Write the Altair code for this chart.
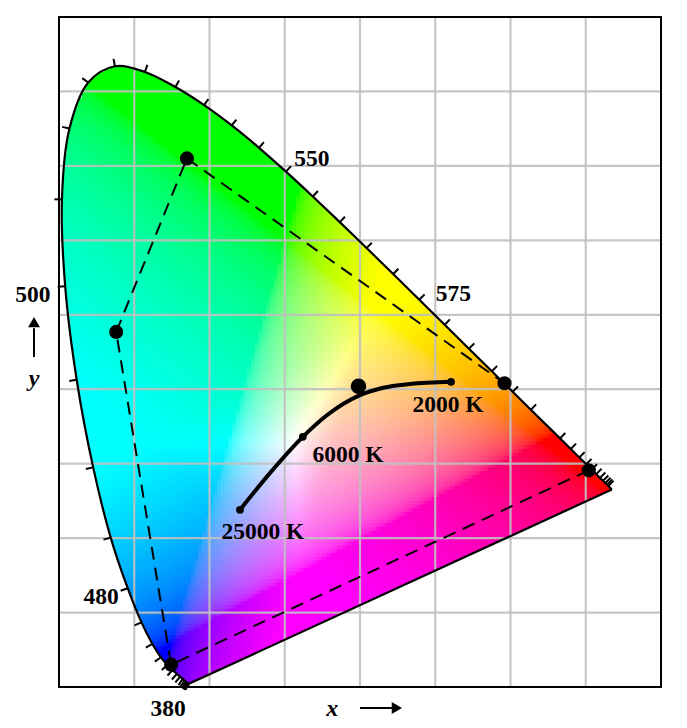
import altair as alt
import numpy as np
import pandas as pd

alt.data_transformers.disable_max_rows()

# Spectral locus, CIE 1931
nm = [380,385,390,395,400,405,410,415,420,425,430,435,440,445,450,455,460,465,470,475,480,485,490,495,500,505,510,515,520,525,530,535,540,545,550,555,560,565,570,575,580,585,590,595,600,605,610,615,620,625,630,635,640,645,650,655,660,665,670,700]
lx = [.1741,.1740,.1738,.1736,.1733,.1730,.1726,.1721,.1714,.1703,.1689,.1669,.1644,.1611,.1566,.1510,.1440,.1355,.1241,.1096,.0913,.0687,.0454,.0235,.0082,.0039,.0139,.0389,.0743,.1142,.1547,.1929,.2296,.2658,.3016,.3373,.3731,.4087,.4441,.4788,.5125,.5448,.5752,.6029,.6270,.6482,.6658,.6801,.6915,.7006,.7079,.7140,.7190,.7230,.7260,.7283,.7300,.7311,.7320,.7347]
ly = [.0050,.0050,.0049,.0049,.0048,.0048,.0048,.0048,.0051,.0058,.0069,.0086,.0109,.0138,.0177,.0227,.0297,.0399,.0578,.0868,.1327,.2007,.2950,.4127,.5384,.6548,.7502,.8120,.8338,.8262,.8059,.7816,.7543,.7243,.6923,.6589,.6245,.5896,.5547,.5202,.4866,.4544,.4242,.3965,.3725,.3514,.3340,.3197,.3083,.2993,.2920,.2859,.2809,.2770,.2740,.2717,.2700,.2689,.2680,.2653]
no_tick = [380,385,390,395,605,665,670,700]

# Gamut corners and white point
gamut_x = [.170,.592,.704,.149,.076,.170]
gamut_y = [.710,.408,.291,.030,.477,.710]
gamut_seg = ["a","a","b","b","b","b"]
dots_x = [.170,.076,.149,.592,.704]
dots_y = [.710,.477,.030,.408,.291]
white_x = [.398]
white_y = [.404]

# Blackbody curve
bb_x = [.2405,.280,.324,.356,.400,.431,.466,.521]
bb_y = [.238,.287,.336,.365,.392,.402,.407,.410]
bb_end_x = [.2405,.324,.521]
bb_end_y = [.238,.336,.410]

grid_x = [.1,.2,.3,.4,.5,.6,.7]
grid_y = [.1,.2,.3,.4,.5,.6,.7,.8]

labels = ["550","575","500","480","380","2000 K","6000 K","25000 K"]
label_x = [.336,.524,-.0346,.056,.145,.517,.384,.271]
label_y = [.709,.528,.527,.121,-.0296,.379,.312,.208]

W, H = 602, 670
XD, YD = [0, .8], [0, .9]
sx, sy = W / .8, H / .9
X = lambda f: alt.X(f, type="quantitative", scale=alt.Scale(domain=XD), axis=None)
Y = lambda f: alt.Y(f, type="quantitative", scale=alt.Scale(domain=YD), axis=None)
FONT = "Liberation Serif"

lxa, lya = np.array(lx), np.array(ly)

# Colour field: chromaticity to sRGB, clipped
step = .005
gx, gy = np.meshgrid(np.arange(0, .8, step), np.arange(0, .9, step))
gx, gy = gx.ravel(), gy.ravel()

def inside(px, py):
    c = np.zeros(px.shape, bool)
    j = len(lxa) - 1
    for i in range(len(lxa)):
        hit = ((lya[i] > py) != (lya[j] > py)) & (
            px < (lxa[j] - lxa[i]) * (py - lya[i]) / (lya[j] - lya[i] + 1e-12) + lxa[i])
        c ^= hit
        j = i
    return c

keep = inside(gx, gy) | inside(gx + step, gy) | inside(gx, gy + step) | inside(gx + step, gy + step)
gx, gy = gx[keep], gy[keep]
cx, cy = gx + step / 2, gy + step / 2
M = np.array([[3.2406, -1.5372, -.4986], [-.9689, 1.8758, .0415], [.0557, -.2040, 1.0570]])
lin = M @ np.vstack([cx, cy, 1 - cx - cy])
scale = np.maximum(1.9, 1 / lin.max(axis=0))
rgb = np.clip(lin * scale, 0, 1)
rgb = np.where(rgb <= .0031308, 12.92 * rgb, 1.055 * rgb ** (1 / 2.4) - .055)
rgb8 = np.clip((rgb * 255).round().astype(int), 0, 255)
hexes = ["#%02x%02x%02x" % tuple(c) for c in rgb8.T]
cells = pd.DataFrame({"x": gx.round(4), "x2": (gx + step * 1.2).round(4),
                      "y": gy.round(4), "y2": (gy + step * 1.2).round(4), "c": hexes})

field = alt.Chart(cells).mark_rect(strokeWidth=0).encode(
    x=X("x"), x2="x2", y=Y("y"), y2="y2", color=alt.Color("c:N", scale=None))

# White cover outside the locus
k = nm.index(505)
up = pd.DataFrame({"x": lx[k:], "y": ly[k:], "y2": .9})
low = pd.DataFrame({"x": lx[k::-1], "y": ly[k::-1], "y2": 0.})
purple = pd.DataFrame({"x": [lx[0], lx[-1]], "y": [ly[0], ly[-1]], "y2": 0.})
mask = lambda d, how: alt.Chart(d).mark_area(color="white", opacity=1, interpolate=how).encode(
    x=X("x"), y=Y("y"), y2="y2")
sides = alt.Chart(pd.DataFrame({"x": [0, lx[-1]], "x2": [min(lx), .8], "y": [0, 0], "y2": [.9, .9]})).mark_rect(
    color="white", opacity=1).encode(x=X("x"), x2="x2", y=Y("y"), y2="y2")

gridv = alt.Chart(pd.DataFrame({"v": grid_x})).mark_rule(color="#c0c0c0", strokeWidth=2.2, opacity=.9).encode(x=X("v"))
gridh = alt.Chart(pd.DataFrame({"v": grid_y})).mark_rule(color="#c0c0c0", strokeWidth=2.2, opacity=.9).encode(y=Y("v"))

outline = alt.Chart(pd.DataFrame({"x": lx, "y": ly, "o": list(range(len(lx)))})).mark_line(
    color="black", strokeWidth=2.2, interpolate="catmull-rom", clip=True).encode(x=X("x"), y=Y("y"), order="o:Q")
outline2 = alt.Chart(pd.DataFrame({"x": [lx[0], lx[-1]], "y": [ly[0], ly[-1]]})).mark_line(
    color="black", strokeWidth=2.2).encode(x=X("x"), y=Y("y"))

# Wavelength ticks, perpendicular to the locus
tick_rows = []
for i, w in enumerate(nm):
    if w in no_tick:
        continue
    if w <= 440:
        a, b = nm.index(380), nm.index(445)
    elif w >= 630:
        a, b = nm.index(625), len(nm) - 1
    else:
        a, b = i - 1, i + 1
    tx, ty = (lx[b] - lx[a]) * sx, (ly[b] - ly[a]) * sy
    n = np.hypot(tx, ty)
    ox, oy = -ty / n, tx / n
    if ox * (lx[i] - .33) * sx + oy * (ly[i] - .33) * sy < 0:
        ox, oy = -ox, -oy
    L = 7.5
    tick_rows.append({"x": lx[i], "x2": lx[i] + ox * L / sx, "y": ly[i], "y2": ly[i] + oy * L / sy})
ticks = alt.Chart(pd.DataFrame(tick_rows)).mark_rule(color="black", strokeWidth=2).encode(
    x=X("x"), x2="x2", y=Y("y"), y2="y2")

gamut = alt.Chart(pd.DataFrame({"x": gamut_x, "y": gamut_y, "s": gamut_seg, "o": range(6)})).mark_line(
    color="black", strokeWidth=2, strokeDash=[13, 8]).encode(x=X("x"), y=Y("y"), detail="s:N", order="o:Q")
dots = alt.Chart(pd.DataFrame({"x": dots_x, "y": dots_y})).mark_circle(color="black", size=200, opacity=1).encode(x=X("x"), y=Y("y"))
white = alt.Chart(pd.DataFrame({"x": white_x, "y": white_y})).mark_circle(color="black", size=240, opacity=1).encode(x=X("x"), y=Y("y"))
bb = alt.Chart(pd.DataFrame({"x": bb_x, "y": bb_y})).mark_line(
    color="black", strokeWidth=4, interpolate="monotone").encode(x=X("x"), y=Y("y"))
bbd = alt.Chart(pd.DataFrame({"x": bb_end_x, "y": bb_end_y})).mark_circle(color="black", size=60, opacity=1).encode(x=X("x"), y=Y("y"))

text = alt.Chart(pd.DataFrame({"x": label_x, "y": label_y, "t": labels})).mark_text(
    font=FONT, fontSize=23.5, fontWeight="bold", color="black", align="center", baseline="middle").encode(
    x=X("x"), y=Y("y"), text="t:N")
axis_names = alt.Chart(pd.DataFrame({"x": [.363, -.033], "y": [-.03, .414], "t": ["x", "y"]})).mark_text(
    font=FONT, fontSize=24, fontWeight="bold", fontStyle="italic", color="black", align="center", baseline="middle").encode(
    x=X("x"), y=Y("y"), text="t:N")

arrow_h = alt.Chart(pd.DataFrame({"x": [.4], "x2": [.4425], "y": [-.0282]})).mark_rule(color="black", strokeWidth=2).encode(
    x=X("x"), x2="x2", y=Y("y"))
arrow_v = alt.Chart(pd.DataFrame({"x": [-.0332], "y": [.4433], "y2": [.482]})).mark_rule(color="black", strokeWidth=2).encode(
    x=X("x"), y=Y("y"), y2="y2")
head_h = alt.Chart(pd.DataFrame({"x": [.449], "y": [-.0282]})).mark_point(
    shape="triangle-right", filled=True, color="black", size=140, opacity=1).encode(x=X("x"), y=Y("y"))
head_v = alt.Chart(pd.DataFrame({"x": [-.0332], "y": [.490]})).mark_point(
    shape="triangle-up", filled=True, color="black", size=140, opacity=1).encode(x=X("x"), y=Y("y"))

frame = alt.Chart(pd.DataFrame({"x": [XD[0]], "x2": [XD[1]], "y": [YD[0]], "y2": [YD[1]]})).mark_rect(
    filled=False, stroke="black", strokeWidth=2, fillOpacity=0).encode(x=X("x"), x2="x2", y=Y("y"), y2="y2")

chart = alt.layer(field, mask(up, "catmull-rom"), mask(low, "catmull-rom"), mask(purple, "linear"), sides,
                  gridv, gridh, outline, outline2, ticks, gamut, bb, bbd, dots, white,
                  text, axis_names, arrow_h, arrow_v, head_h, head_v, frame).properties(
    width=W, height=H,
    padding={"left": 51, "top": 9, "right": 10, "bottom": 38},
    autosize=alt.AutoSizeParams(type="none"),
    background="white",
).configure_view(stroke=None)

chart.save("out.html", embed_options={"renderer": "svg", "actions": False})
